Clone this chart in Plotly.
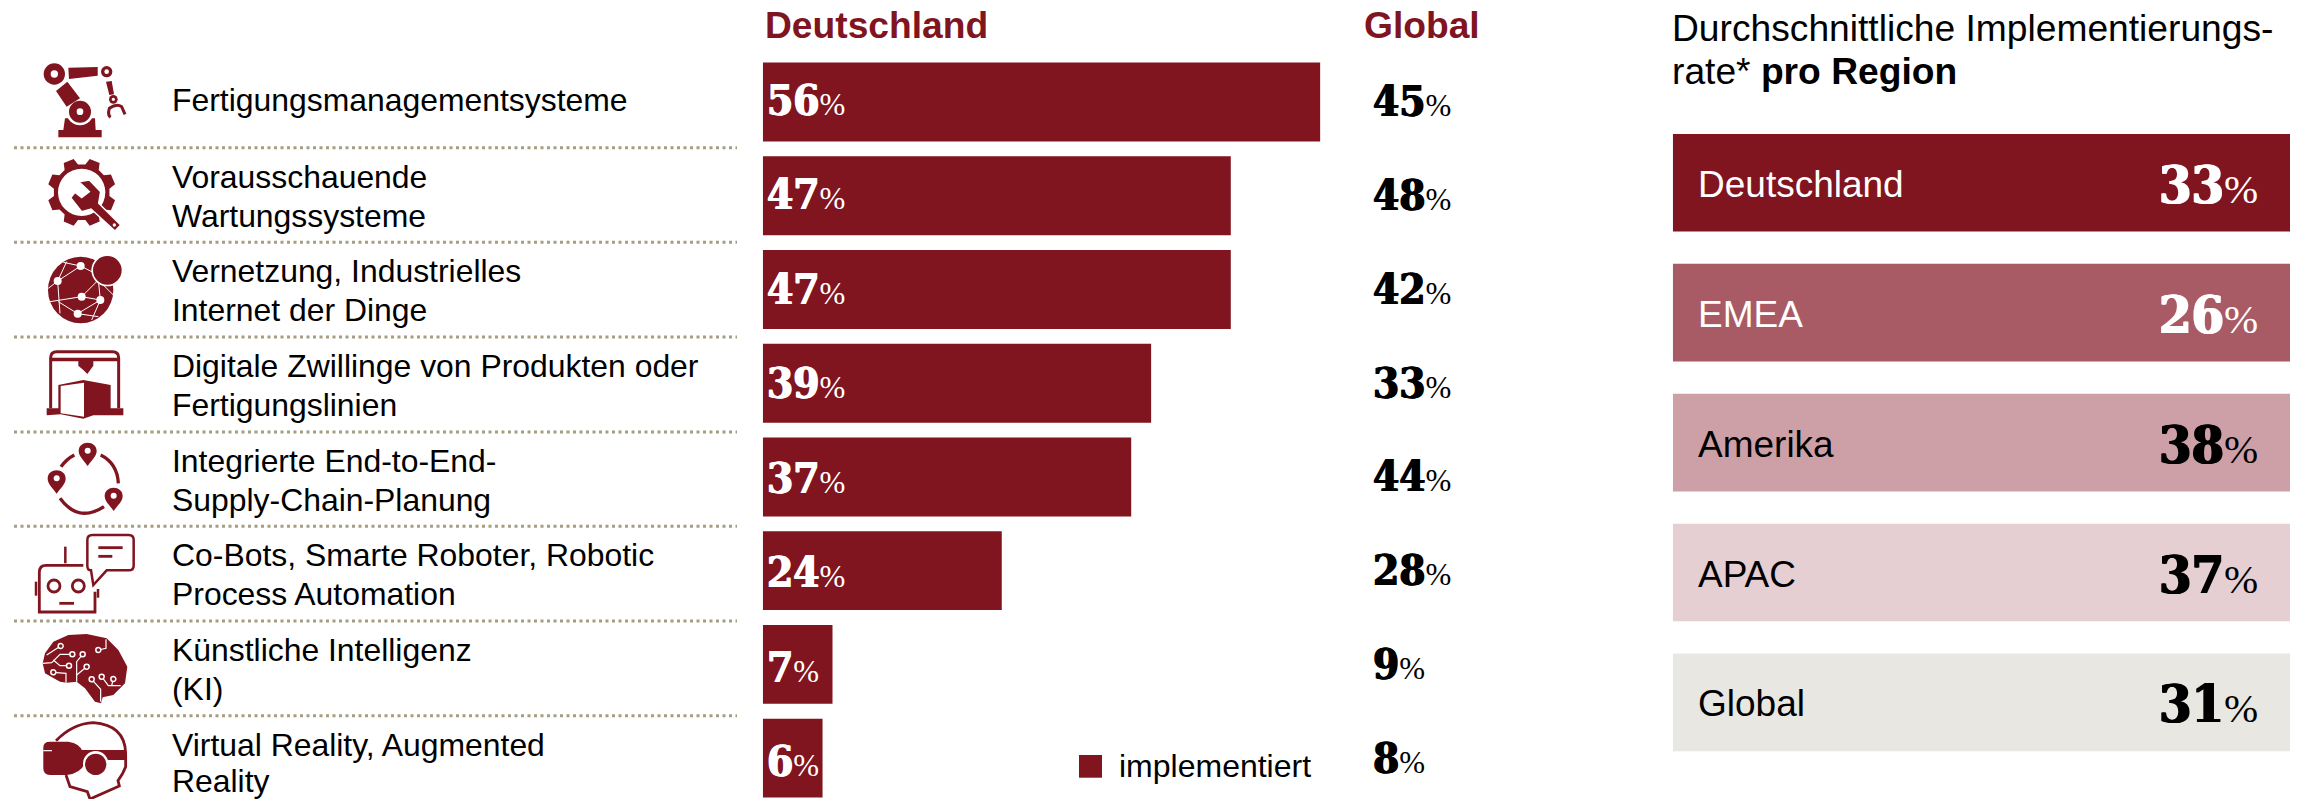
import math
import plotly.graph_objects as go

W, H = 2305, 799
RED = "#80141F"
TAN = "#A69E80"

# ---------- data ----------
row_lines = [
    ["Fertigungsmanagementsysteme"],
    ["Vorausschauende", "Wartungssysteme"],
    ["Vernetzung, Industrielles", "Internet der Dinge"],
    ["Digitale Zwillinge von Produkten oder", "Fertigungslinien"],
    ["Integrierte End-to-End-", "Supply-Chain-Planung"],
    ["Co-Bots, Smarte Roboter, Robotic", "Process Automation"],
    ["Künstliche Intelligenz", "(KI)"],
    ["Virtual Reality, Augmented", "Reality"],
]
germany = [56, 47, 47, 39, 37, 24, 7, 6]
global_vals = [45, 48, 42, 33, 44, 28, 9, 8]
regions = ["Deutschland", "EMEA", "Amerika", "APAC", "Global"]
region_vals = [33, 26, 38, 37, 31]
region_span = [1, 1, 1, 1, 1]
region_colors = ["#80141F", "#A85A65", "#CDA0A8", "#E6CFD3", "#E8E7E2"]
region_text = ["white", "white", "black", "black", "black"]
legend_label = "implementiert"
header_left = "Deutschland"
header_right = "Global"
panel_title = ["Durchschnittliche Implementierungs-", "rate* <b>pro Region</b>"]

categories = [" ".join(r) for r in row_lines]

NUM = "DejaVu Serif Condensed, DejaVu Serif, Liberation Serif"
SANS = "Liberation Sans, Arial, sans-serif"


def pct(v, pct_size, color, fat=0.8):
    shadow = f"{fat}px 0 0 {color},-{fat}px 0 0 {color}"
    return (f'<span style="text-shadow:{shadow}">{v}</span>'
            f'<span style="font-family:Liberation Serif;font-weight:normal;'
            f'font-size:{pct_size}px">%</span>')


fig = go.Figure()
fig.add_trace(go.Bar(x=germany, y=categories, orientation="h", marker=dict(color=RED, line_width=0),
                     xaxis="x", yaxis="y", hoverinfo="skip", showlegend=False))
fig.add_trace(go.Bar(x=region_span, y=regions, orientation="h",
                     marker=dict(color=region_colors, line_width=0),
                     xaxis="x2", yaxis="y2", hoverinfo="skip", showlegend=False))

ann = []


def text_px(x, y, s, size, color="black", family=SANS, weight="normal", anchor="left"):
    ann.append(dict(xref="paper", yref="paper", x=x / W, y=1 - y / H, text=s, showarrow=False,
                    xanchor=anchor, yanchor="middle", borderpad=0, borderwidth=0,
                    font=dict(size=size, color=color, family=family, weight=weight)))


text_px(765, 25, f"<b>{header_left}</b>", 37.2, RED)
text_px(1364, 25, f"<b>{header_right}</b>", 37.2, RED)
text_px(1672, 28, panel_title[0], 37.2)
text_px(1672, 70.5, panel_title[1], 37.2)
text_px(1119, 766, legend_label, 32)

for i, (cat, lines, d, g) in enumerate(zip(categories, row_lines, germany, global_vals)):
    drift = 0.8 + (i - 1) * 0.95
    if len(lines) == 1:
        shifts = [2]
    else:
        shifts = [20 - drift, -19 - drift]
    if i == len(row_lines) - 1:
        shifts[1] += 3
    for line, sh in zip(lines, shifts):
        ann.append(dict(xref="paper", yref="y", x=171 / W, y=cat, yshift=sh, text=line, showarrow=False,
                        xanchor="left", yanchor="middle", borderpad=0,
                        font=dict(size=31.9, color="black", family=SANS)))
    ann.append(dict(xref="x", yref="y", x=0, y=cat, xshift=3.5, yshift=1.5 - 0.75 * i, text=pct(d, 31, "white"),
                    showarrow=False, xanchor="left", yanchor="middle", borderpad=0,
                    font=dict(size=42, color="white", family=NUM, weight="bold")))
    ann.append(dict(xref="paper", yref="y", x=1372 / W, y=cat, yshift=0, text=pct(g, 31, "black"), showarrow=False,
                    xanchor="left", yanchor="middle", borderpad=0,
                    font=dict(size=42, color="black", family=NUM, weight="bold")))

for r, v, tc in zip(regions, region_vals, region_text):
    ann.append(dict(xref="x2", yref="y2", x=0, y=r, xshift=24, yshift=-1.5, text=r, showarrow=False,
                    xanchor="left", yanchor="middle", borderpad=0,
                    font=dict(size=37, color=tc, family=SANS)))
    ann.append(dict(xref="x2", yref="y2", x=1, y=r, xshift=-31, yshift=-1.5, text=pct(v, 41, tc, 1.0), showarrow=False,
                    xanchor="right", yanchor="middle", borderpad=0,
                    font=dict(size=52, color=tc, family=NUM, weight="bold")))

# ---------- decoration: separators, legend swatch, icons (pixel space -> paper) ----------
shapes = []


def px(x, y):
    return x / W, 1 - y / H


for y in [147.7, 242.3, 337, 432, 526.3, 621, 715.7]:
    shapes.append(dict(type="line", xref="paper", yref="paper", x0=14 / W, x1=737 / W, y0=1 - y / H, y1=1 - y / H,
                       line=dict(color=TAN, width=3, dash="3px,3.5px")))
shapes.append(dict(type="rect", xref="paper", yref="paper", x0=1079 / W, x1=1102 / W, y0=1 - 777.7 / H, y1=1 - 755 / H,
                   fillcolor=RED, line_width=0))


class Icon:
    """Draws in crop coordinates (3x zoom) relative to an origin."""

    def __init__(self, ox, oy):
        self.ox, self.oy = ox, oy

    def t(self, x, y):
        return px(self.ox + x / 3, self.oy + y / 3)

    def tokens(self, segs):
        out = []
        for s in segs:
            cmd, pts = s[0], s[1:]
            c = []
            for x, y in pts:
                a, b = self.t(x, y)
                c.append(f"{a:.5f},{b:.5f}")
            out.append(cmd + " ".join(c))
        return " ".join(out)

    def path(self, segs, fill=None, stroke=None, width=0, close=False):
        p = self.tokens(segs) + (" Z" if close else "")
        d = dict(type="path", xref="paper", yref="paper", path=p, layer="above")
        if fill:
            d["fillcolor"] = fill
        else:
            d["fillcolor"] = "rgba(0,0,0,0)"
        d["line"] = dict(color=stroke or "rgba(0,0,0,0)", width=width)
        shapes.append(d)

    def poly(self, pts, fill=RED):
        self.path([("M", pts[0])] + [("L", q) for q in pts[1:]], fill=fill, close=True)

    def pl(self, pts, width=1.0, color="white"):
        self.path([("M", pts[0])] + [("L", q) for q in pts[1:]], stroke=color, width=width)

    def circle(self, cx, cy, r, fill=RED, stroke=None, width=0, ry=None):
        ry = ry or r
        x0, y0 = self.t(cx - r, cy + ry)
        x1, y1 = self.t(cx + r, cy - ry)
        shapes.append(dict(type="circle", xref="paper", yref="paper", x0=x0, y0=y0, x1=x1, y1=y1,
                           fillcolor=fill, line=dict(color=stroke or "rgba(0,0,0,0)", width=width)))


# 1 robot arm
a = Icon(30, 55)
a.poly([(105, 190), (195, 190), (197, 225), (215, 225), (215, 247), (85, 247), (85, 225), (100, 225)])
a.circle(150, 170, 41, "white")
a.circle(150, 170, 33)
a.circle(150, 170, 10, "white")
a.circle(73, 57, 32)
a.circle(73, 57, 11, "white")
a.poly([(115, 38), (203, 36), (203, 62), (117, 72)])
a.circle(230, 50, 17)
a.circle(230, 50, 7, "white")
a.poly([(78, 108), (112, 80), (150, 130), (110, 155)])
a.poly([(228, 80), (245, 78), (252, 118), (238, 120)])
a.circle(250, 133, 13)
a.circle(250, 133, 5, "white")
a.path([("M", (242, 187)), ("Q", (232, 180), (238, 160)), ("Q", (260, 145), (275, 155)), ("L", (285, 178))],
       stroke=RED, width=3)
a.poly([(253, 160), (262, 160), (258, 170)], "white")

# 2 gear + wrench
a = Icon(30, 55)
gx, gy = 155, 412
gear = []
for i in range(8):
    c = math.radians(i * 45 + 22.5)
    for da, r in [(-15, 84), (-9, 103), (9, 103), (15, 84)]:
        th = c + math.radians(da)
        gear.append((gx + r * math.cos(th), gy + r * math.sin(th)))
a.poly(gear)
a.circle(gx, gy, 71, "white")
wrench = [(147, 380), (178, 375), (212, 410), (206, 445), (272, 510), (255, 528), (183, 462), (155, 470), (122, 428),
          (135, 412), (155, 428), (178, 410)]
a.path([("M", wrench[0])] + [("L", q) for q in wrench[1:]], fill=RED, stroke="white", width=1.5, close=True)
a.circle(253, 510, 5, "white")

# 3 globe
a = Icon(30, 245)
a.circle(152, 135, 98, ry=100)
for seg in [[(100, 52), (152, 63), (195, 85)], [(83, 108), (152, 63)], [(83, 108), (110, 50)], [(83, 108), (55, 130)],
            [(83, 108), (90, 205)], [(60, 170), (155, 155), (205, 105)], [(155, 155), (211, 165)],
            [(211, 165), (185, 225)], [(143, 206), (85, 170)], [(143, 206), (211, 165)], [(143, 206), (205, 215)],
            [(205, 105), (211, 165)], [(205, 105), (250, 150)]]:
    a.pl(seg, 1.0)
for cx, cy in [(152, 63), (83, 108), (155, 155), (211, 165), (143, 206)]:
    a.circle(cx, cy, 12, "white")
a.circle(232, 76, 48, "white")
a.circle(232, 76, 43)

# 4 printer
a = Icon(30, 245)
a.path([("M", (62, 490)), ("L", (62, 338)), ("Q", (62, 320), (80, 320)), ("L", (248, 320)), ("Q", (266, 320), (266, 338)),
        ("L", (266, 490))], stroke=RED, width=3)
a.poly([(62, 338), (266, 338), (266, 349), (62, 349)])
a.poly([(145, 340), (190, 340), (190, 362), (172, 387), (160, 375), (145, 362)])
a.poly([(50, 490), (280, 490), (280, 511), (190, 511), (160, 521), (92, 508), (50, 511)])
a.poly([(85, 420), (160, 405), (242, 420), (242, 495), (85, 495)])
a.poly([(92, 423), (162, 413), (162, 515), (92, 505)], "white")

# 5 supply-chain pins
a = Icon(30, 435)
a.path([("M", (93, 95)), ("Q", (110, 72), (133, 60))], stroke=RED, width=3.3)
a.path([("M", (212, 60)), ("Q", (262, 85), (265, 145))], stroke=RED, width=3.3)
a.path([("M", (90, 190)), ("Q", (145, 265), (222, 215))], stroke=RED, width=3.3)
for cx, cy in [(173, 50), (80, 133), (251, 185)]:
    tip = (cx, cy + 43)
    a.path([("M", tip), ("C", (cx - 10, cy + 28), (cx - 27, cy + 14), (cx - 27, cy - 2)),
            ("C", (cx - 27, cy - 18), (cx - 14, cy - 27), (cx, cy - 27)),
            ("C", (cx + 14, cy - 27), (cx + 27, cy - 18), (cx + 27, cy - 2)),
            ("C", (cx + 27, cy + 14), (cx + 10, cy + 28), tip)], fill=RED, close=True)
    a.circle(cx, cy - 3, 9, "white")

# 6 chat robot
a = Icon(30, 435)
a.pl([(106, 335), (106, 385)], 2.5, RED)
a.path([("M", (160, 391)), ("L", (48, 391)), ("Q", (28, 391), (28, 412)), ("L", (28, 531)), ("L", (195, 531)),
        ("L", (195, 470))], stroke=RED, width=2.8)
a.pl([(18, 440), (18, 482)], 2.5, RED)
a.pl([(204, 462), (204, 488)], 2.5, RED)
a.circle(72, 453, 18, "white", RED, 2.8)
a.circle(145, 453, 18, "white", RED, 2.8)
a.pl([(88, 505), (132, 505)], 2.8, RED)
a.path([("M", (172, 315)), ("Q", (172, 300), (187, 300)), ("L", (296, 300)), ("Q", (311, 300), (311, 315)),
        ("L", (311, 392)), ("Q", (311, 406), (296, 406)), ("L", (230, 406)), ("L", (190, 450)), ("L", (183, 406)),
        ("Q", (172, 406), (172, 392))], fill="white", stroke=RED, width=2.5, close=True)
a.pl([(205, 338), (278, 338)], 2.8, RED)
a.pl([(205, 364), (247, 364)], 2.8, RED)

# 7 brain
a = Icon(30, 620)
a.poly([(38, 130), (45, 100), (70, 65), (115, 45), (170, 42), (230, 55), (265, 90), (292, 140), (285, 190), (250, 225),
        (218, 232), (213, 250), (195, 245), (165, 205), (140, 185), (110, 188), (90, 185), (45, 160)])
for seg in [[(92, 78), (50, 105)], [(127, 103), (90, 103), (65, 128), (38, 130)], [(117, 137), (90, 137), (70, 120)],
            [(158, 103), (140, 125), (140, 185)], [(170, 140), (140, 165)], [(70, 157), (108, 160), (108, 188)],
            [(205, 90), (228, 85), (228, 58)], [(185, 178), (212, 208), (212, 245)],
            [(215, 170), (235, 197), (272, 197)], [(250, 177), (245, 197)]]:
    a.pl(seg, 1.2)
for cx, cy in [(92, 78), (205, 90), (127, 103), (158, 103), (117, 137), (170, 140), (70, 157), (185, 178), (215, 170),
               (250, 177)]:
    a.circle(cx, cy, 7.5, RED, "white", 1.5)

# 8 VR head
a = Icon(30, 620)
a.path([("M", (78, 362)), ("Q", (130, 310), (190, 308)), ("Q", (285, 315), (287, 400)), ("L", (287, 440)),
        ("Q", (280, 460), (264, 482)), ("L", (268, 498)), ("L", (180, 537)), ("L", (172, 515)), ("L", (120, 500)),
        ("L", (108, 465))], stroke=RED, width=2.8)
a.poly([(150, 390), (287, 390), (287, 420), (150, 420)])
a.path([("M", (40, 382)), ("Q", (40, 365), (60, 365)), ("L", (115, 365)), ("Q", (150, 370), (158, 395)),
        ("L", (165, 430)), ("Q", (150, 462), (110, 465)), ("L", (60, 465)), ("Q", (40, 465), (40, 445))], fill=RED,
       close=True)
a.pl([(40, 392), (66, 392)], 1.2)
a.circle(197, 431, 38, "white")
a.circle(197, 433, 32)

fig.update_layout(
    width=W, height=H, autosize=False, margin=dict(l=0, r=0, t=0, b=0),
    paper_bgcolor="white", plot_bgcolor="white", barmode="overlay", showlegend=False,
    font=dict(family=SANS),
    annotations=ann, shapes=shapes,
    xaxis=dict(domain=[762.8 / W, 1320.4 / W], range=[0, 56], visible=False, fixedrange=True),
    yaxis=dict(domain=[0, 1 - 55.1 / H], range=[7.436, -0.5], visible=False, fixedrange=True, anchor="x",
               type="category", categoryorder="array", categoryarray=categories),
    xaxis2=dict(domain=[1672.8 / W, 2290 / W], range=[0, 1], visible=False, fixedrange=True, anchor="y2"),
    yaxis2=dict(domain=[1 - 767.4 / H, 1 - 117.8 / H], range=[4.5, -0.5], visible=False, fixedrange=True, anchor="x2",
                type="category", categoryorder="array", categoryarray=regions),
)
fig.data[0].update(width=0.842)
fig.data[1].update(width=0.752)

fig.write_html("out.html", config=dict(displayModeBar=False),
               post_script="document.body.style.margin='0';document.body.style.overflow='hidden';")
